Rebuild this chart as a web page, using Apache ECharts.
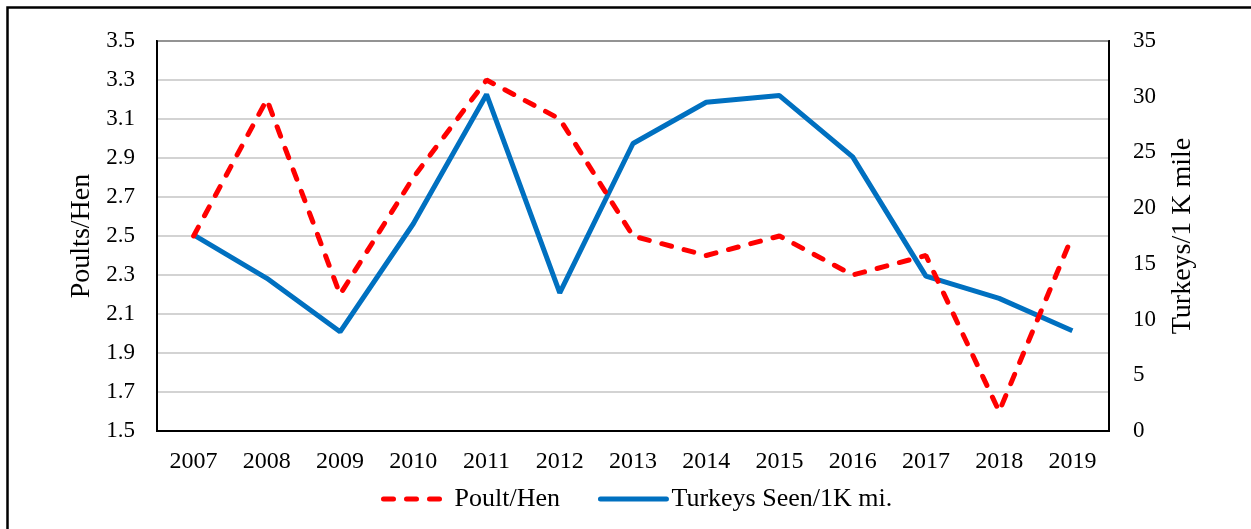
<!DOCTYPE html>
<html>
<head>
<meta charset="utf-8">
<title>Poults per hen and turkeys seen</title>
<script src="https://cdn.jsdelivr.net/npm/echarts@6/dist/echarts.min.js"></script>
<style>
  html, body { margin: 0; padding: 0; background: #fff; }
  #chart { width: 1251px; height: 529px; }
</style>
</head>
<body>
<div id="chart"></div>
<script>
// data
const years = ['2007', '2008', '2009', '2010', '2011', '2012', '2013', '2014', '2015', '2016', '2017', '2018', '2019']
const poultPerHen = [2.5, 3.2, 2.2, 2.8, 3.3, 3.1, 2.5, 2.4, 2.5, 2.3, 2.4, 1.6, 2.5]
const turkeysSeen = [17.6, 13.7, 8.9, 18.6, 30.2, 12.4, 25.8, 29.5, 30.1, 24.6, 13.9, 11.9, 9.0]
const leftTicks = { min: 1.5, max: 3.5, step: 0.2 }
const rightTicks = { min: 0, max: 35, step: 5 }

const font = 'Liberation Serif'
const chart = echarts.init(document.getElementById('chart'))

const option = {
  animation: false,
  textStyle: { fontFamily: font, color: '#000' },
  // outer frame of the figure
  graphic: [{
    type: 'rect',
    shape: { x: 7.5, y: 7.5, width: 1400, height: 700 },
    style: { fill: 'none', stroke: '#000', lineWidth: 2.5 },
    silent: true
  }],
  grid: {
    left: 157,
    right: 142,
    top: 41,
    bottom: 98,
    show: true,
    borderColor: '#000',
    borderWidth: 2
  },
  legend: {
    left: 376,
    top: 481,
    itemWidth: 66,
    itemHeight: 14,
    itemGap: 38,
    // line only, no marker dot
    itemStyle: { opacity: 0 },
    lineStyle: { width: 5, cap: 'round' },
    textStyle: { fontFamily: font, fontSize: 26, color: '#000' },
    data: ['Poult/Hen', 'Turkeys Seen/1K mi.']
  },
  xAxis: {
    type: 'category',
    data: years,
    boundaryGap: true,
    axisTick: { show: false },
    axisLine: { lineStyle: { color: '#000', width: 2 } },
    axisLabel: { fontFamily: font, fontSize: 24, color: '#000', margin: 19 }
  },
  yAxis: [
    {
      type: 'value',
      min: leftTicks.min,
      max: leftTicks.max,
      interval: leftTicks.step,
      name: 'Poults/Hen',
      nameLocation: 'middle',
      nameGap: 49,
      nameTextStyle: { fontFamily: font, fontSize: 28, color: '#000' },
      axisLine: { show: true, lineStyle: { color: '#000', width: 2 } },
      axisTick: { show: false },
      axisLabel: {
        fontFamily: font, fontSize: 23, color: '#000', margin: 22,
        formatter: v => v.toFixed(1)
      },
      splitLine: { lineStyle: { color: '#c4c4c4', width: 1.5 } }
    },
    {
      type: 'value',
      min: rightTicks.min,
      max: rightTicks.max,
      interval: rightTicks.step,
      name: 'Turkeys/1 K mile',
      nameLocation: 'middle',
      nameGap: 60,
      nameTextStyle: { fontFamily: font, fontSize: 28, color: '#000' },
      axisLine: { show: true, lineStyle: { color: '#000', width: 2 } },
      axisTick: { show: false },
      axisLabel: { fontFamily: font, fontSize: 23, color: '#000', margin: 24 },
      splitLine: { show: false }
    }
  ],
  series: [
    {
      name: 'Poult/Hen',
      type: 'line',
      yAxisIndex: 0,
      data: poultPerHen,
      symbol: 'none',
      color: '#ff0000',
      lineStyle: { color: '#ff0000', width: 5, type: [10, 13], cap: 'round' },
      z: 3
    },
    {
      name: 'Turkeys Seen/1K mi.',
      type: 'line',
      yAxisIndex: 1,
      data: turkeysSeen,
      symbol: 'none',
      color: '#0070c0',
      lineStyle: { color: '#0070c0', width: 5 },
      z: 2
    }
  ]
}

chart.setOption(option)
</script>
</body>
</html>
